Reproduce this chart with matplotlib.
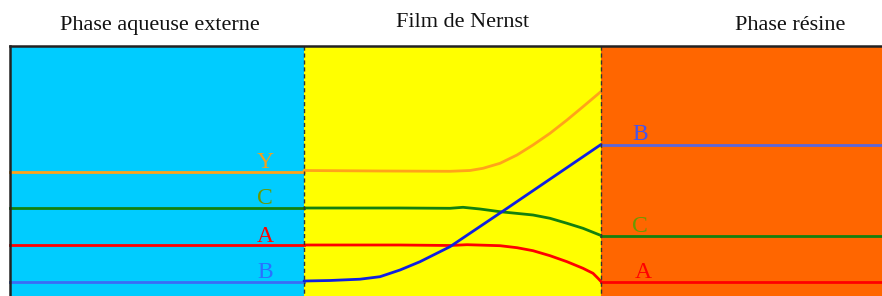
import matplotlib.pyplot as plt
from matplotlib.patches import Rectangle

# zone boundaries (horizontal position, pixel-like units)
zone_edges = [10, 304, 601, 882]
zone_colors = ["#00CCFF", "#FFFF00", "#FF6600"]
zone_titles = ["Phase aqueuse externe", "Film de Nernst", "Phase résine"]
title_x = [160, 462.5, 790]
title_base = [30, 27, 29.5]

# concentration levels (vertical position, pixel-like units, top = 0)
aq_levels = {"Y": 172, "C": 208, "A": 245, "B": 282}
res_levels = {"B": 145, "C": 236, "A": 282}

# profiles through the film
film_x_Y = [304, 380, 450, 470, 483, 500, 517, 533, 550, 567, 583, 601]
film_Y = [170.5, 171, 171.3, 170.5, 168.3, 163.3, 155, 145, 133.3, 120, 106.7, 91.5]
film_x_C = [304, 400, 450, 463, 480, 500, 533, 550, 567, 583, 601]
film_C = [208, 208, 208.3, 207.3, 209, 211.7, 215, 218.3, 223.3, 228.3, 235.5]
film_x_A = [304, 400, 450, 467, 500, 517, 533, 550, 567, 583, 593, 598, 601]
film_A = [245, 245, 245.5, 244.7, 245.7, 247.7, 250.7, 255.7, 261.7, 268.3, 273.3, 278.3, 281.5]
film_x_B = [304, 330, 360, 380, 400, 420, 450, 505, 601]
film_B = [281, 280.5, 279.2, 276.7, 270, 261.7, 246.7, 209.7, 144.5]

colors = {"Y": "#FFA31A", "C": "#13800E", "A": "#FF0000", "B": "#3A6CF5"}
label_colors = {"Y": "#F0A020", "C": "#6A9A00", "A": "#FF0000", "B": "#2A70FF"}
res_colors = {"B": "#5A66DD", "C": "#13800E", "A": "#FF0000"}
res_label_colors = {"B": "#4455EE", "C": "#6A9A00", "A": "#FF0000"}
film_B_color = "#1020E0"

fig = plt.figure(figsize=(8.82, 2.96), dpi=100)
ax = fig.add_axes([0, 0, 1, 1])
ax.set_xlim(0, 882)
ax.set_ylim(296, 0)
ax.axis("off")

top = 46
for i in range(3):
    ax.add_patch(Rectangle((zone_edges[i], top), zone_edges[i + 1] - zone_edges[i], 296 - top,
                           facecolor=zone_colors[i], edgecolor="none", zorder=0))
    ax.text(title_x[i], title_base[i], zone_titles[i], ha="center", va="baseline",
            fontsize=16, family="Liberation Serif", color="#111111")

ax.plot([zone_edges[0], 882], [top, top], color="#222222", lw=1.8, zorder=5)
ax.plot([zone_edges[0], zone_edges[0]], [top, 296], color="#222222", lw=1.8, zorder=5)
for xe in zone_edges[1:3]:
    ax.plot([xe, xe], [top, 296], color="#333333", lw=1, ls=(0, (3, 2)), zorder=4)

# aqueous phase lines
for k, y in aq_levels.items():
    ax.plot([zone_edges[0], zone_edges[1]], [y, y], color=colors[k], lw=2, zorder=2)
    ax.text(265, y - 3.5, k, ha="center", va="baseline", fontsize=17,
            family="Liberation Serif", color=label_colors[k])

# film profiles
kw = dict(lw=2, solid_joinstyle="round", solid_capstyle="round")
ax.plot(film_x_Y, film_Y, color=colors["Y"], zorder=2, **kw)
ax.plot(film_x_C, film_C, color=colors["C"], zorder=2, **kw)
ax.plot(film_x_A, film_A, color=colors["A"], zorder=2, **kw)
ax.plot(film_x_B, film_B, color=film_B_color, zorder=3, **kw)

# resin phase lines
res_label_x = {"B": 640, "C": 640, "A": 643}
for k, y in res_levels.items():
    ax.plot([zone_edges[2], 882], [y, y], color=res_colors[k], lw=2, zorder=2)
    ax.text(res_label_x[k], y - 4.5, k, ha="center", va="baseline", fontsize=17,
            family="Liberation Serif", color=res_label_colors[k])

fig.savefig("out.png", dpi=100)
